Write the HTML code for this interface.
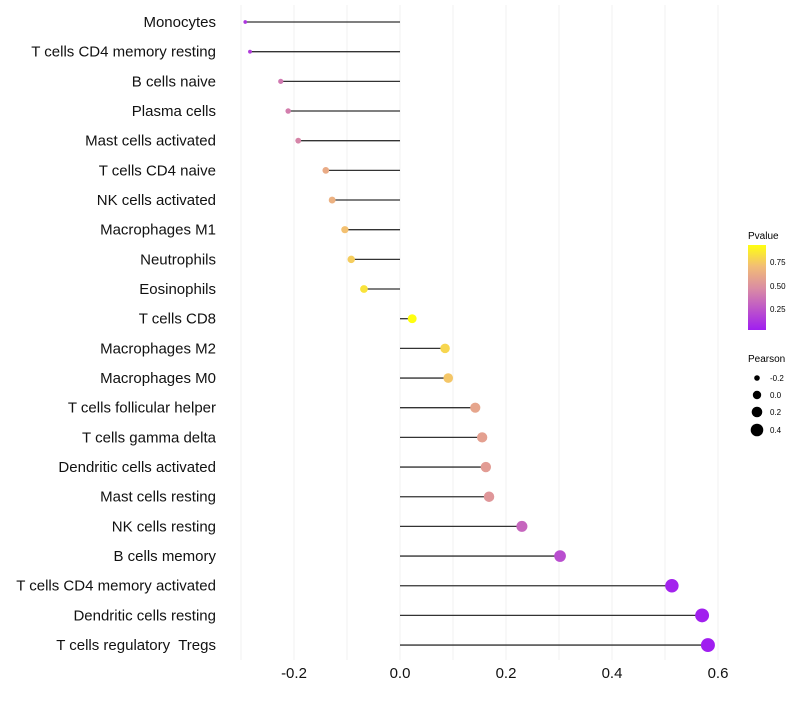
<!DOCTYPE html>
<html><head><meta charset="utf-8"><style>
body{margin:0;background:#fff;font-family:"Liberation Sans",sans-serif}
</style></head><body>
<svg id="chart" width="800" height="700" xmlns="http://www.w3.org/2000/svg" font-family="Liberation Sans, sans-serif">
<defs><linearGradient id="pg" x1="0" y1="1" x2="0" y2="0">
<stop offset="0" stop-color="#a01ef0"/><stop offset="0.48" stop-color="#d98aa5"/><stop offset="0.75" stop-color="#f2bd75"/><stop offset="1" stop-color="#ffff10"/></linearGradient></defs>
<g id="grid"></g><g id="marks"></g><g id="labels"></g>
<g>
<text x="748" y="239" font-size="10">Pvalue</text>
<rect x="748" y="245" width="18" height="85" fill="url(#pg)"/>
<text x="770" y="265" font-size="8">0.75</text><text x="770" y="289" font-size="8">0.50</text><text x="770" y="312" font-size="8">0.25</text>
</g>
<g>
<text x="748" y="362" font-size="10">Pearson</text>
<circle cx="757" cy="378" r="2.8"/><text x="770" y="381" font-size="8">-0.2</text>
<circle cx="757" cy="395" r="4.2"/><text x="770" y="398" font-size="8">0.0</text>
<circle cx="757" cy="412" r="5.3"/><text x="770" y="415" font-size="8">0.2</text>
<circle cx="757" cy="430" r="6.3"/><text x="770" y="433" font-size="8">0.4</text>
</g>
</svg>
<script>
const categories=["Monocytes","T cells CD4 memory resting","B cells naive","Plasma cells","Mast cells activated","T cells CD4 naive","NK cells activated","Macrophages M1","Neutrophils","Eosinophils","T cells CD8","Macrophages M2","Macrophages M0","T cells follicular helper","T cells gamma delta","Dendritic cells activated","Mast cells resting","NK cells resting","B cells memory","T cells CD4 memory activated","Dendritic cells resting","T cells regulatory  Tregs"];
const pearson=[-0.292,-0.283,-0.225,-0.211,-0.192,-0.140,-0.128,-0.104,-0.092,-0.068,0.023,0.085,0.091,0.142,0.155,0.162,0.168,0.230,0.302,0.513,0.570,0.581];
const pvalue=[0.12,0.15,0.40,0.42,0.45,0.63,0.66,0.73,0.77,0.84,0.93,0.80,0.75,0.60,0.58,0.56,0.53,0.32,0.22,0.04,0.03,0.02];
const xTicks=[-0.2,0,0.2,0.4,0.6];
const xGrid=[-0.3,-0.2,-0.1,0,0.1,0.2,0.3,0.4,0.5,0.6];
const X=v=>400+v*530;
const Y=i=>22+i*29.67;
const R=v=>Math.sqrt(Math.max(2.25,18.5+52*v));
const stops=[[0.02,[160,30,240]],[0.47,[217,138,165]],[0.72,[242,189,117]],[0.93,[255,255,16]]];
function col(p){if(p<=stops[0][0])return `rgb(${stops[0][1]})`;for(let k=1;k<stops.length;k++){if(p<=stops[k][0]){const a=stops[k-1],b=stops[k],t=(p-a[0])/(b[0]-a[0]);return `rgb(${a[1].map((c,j)=>Math.round(c+(b[1][j]-c)*t))})`;}}return `rgb(${stops[3][1]})`;}
const NS="http://www.w3.org/2000/svg";
function mk(t,a,p){const e=document.createElementNS(NS,t);for(const k in a)e.setAttribute(k,a[k]);p.appendChild(e);return e;}
const g=document.getElementById('grid'),m=document.getElementById('marks'),l=document.getElementById('labels');
xGrid.forEach(v=>{const e=mk('line',{x1:X(v),x2:X(v),y1:5,y2:660,stroke:'#f2f2f2','stroke-width':1},g);

});
xTicks.forEach(v=>{const e=mk('text',{x:X(v),y:678,'font-size':15,'text-anchor':'middle',fill:'#111'},l);e.textContent=v===0?'0.0':v.toFixed(1);

});
categories.forEach((c,i)=>{
const t=mk('text',{x:216,y:Y(i)+5,'font-size':15,'text-anchor':'end',fill:'#111',style:'white-space:pre'},l);t.textContent=c;


const s=mk('line',{x1:X(0),x2:X(pearson[i]),y1:Y(i),y2:Y(i),stroke:'#333','stroke-width':1.3},m);


const d=mk('circle',{cx:X(pearson[i]),cy:Y(i),r:R(pearson[i]),fill:col(pvalue[i])},m);


});
</script>
</body></html>
